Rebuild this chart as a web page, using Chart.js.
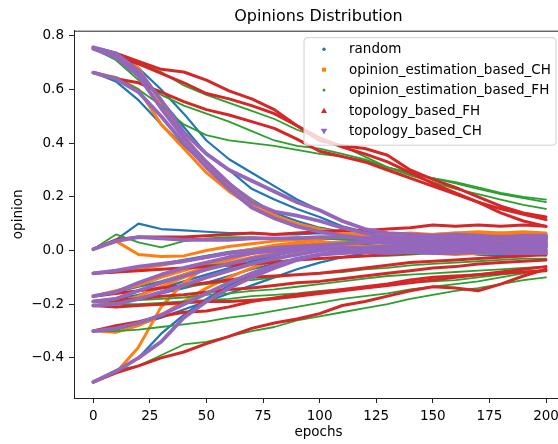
<!DOCTYPE html>
<html>
<head>
<meta charset="utf-8">
<script src="https://cdn.jsdelivr.net/npm/chart.js@4.4.1/dist/chart.umd.min.js"></script>
<style>
html, body { margin: 0; padding: 0; overflow: hidden; background: #fff; }
#wrap { width: 558px; height: 444px; overflow: hidden; }
</style>
</head>
<body>
<div id="wrap"><canvas id="myChart" width="580" height="444"></canvas></div>
<script>
// epochs sampled every 10 steps
const epochs = [0, 10, 20, 30, 40, 50, 60, 70, 80, 90, 100, 110, 120, 130, 140, 150, 160, 170, 180, 190, 200];
const xTicks = [0, 25, 50, 75, 100, 125, 150, 175, 200];
const yTicks = [-0.4, -0.2, 0.0, 0.2, 0.4, 0.6, 0.8];
const seriesNames = ['random', 'opinion_estimation_based_CH', 'opinion_estimation_based_FH', 'topology_based_FH', 'topology_based_CH'];

// one row per agent, values at the epochs above
const randomRuns = [
    [0.757, 0.73, 0.68, 0.60, 0.51, 0.41, 0.34, 0.29, 0.24, 0.19, 0.15, 0.11, 0.08, 0.065, 0.06, 0.05, 0.045, 0.05, 0.04, 0.045, 0.04],
    [0.752, 0.72, 0.66, 0.56, 0.46, 0.36, 0.30, 0.23, 0.19, 0.155, 0.125, 0.09, 0.07, 0.06, 0.055, 0.05, 0.055, 0.05, 0.045, 0.05, 0.05],
    [0.663, 0.63, 0.56, 0.47, 0.39, 0.32, 0.25, 0.19, 0.14, 0.11, 0.085, 0.07, 0.055, 0.045, 0.04, 0.035, 0.03, 0.035, 0.03, 0.025, 0.03],
    [0.005, 0.04, 0.10, 0.08, 0.075, 0.07, 0.065, 0.065, 0.06, 0.06, 0.065, 0.06, 0.06, 0.055, 0.06, 0.055, 0.06, 0.05, 0.055, 0.05, 0.055],
    [-0.085, -0.075, -0.065, -0.05, -0.035, -0.02, -0.005, 0.005, 0.015, 0.02, 0.025, 0.03, 0.025, 0.03, 0.025, 0.02, 0.025, 0.02, 0.015, 0.02, 0.02],
    [-0.17, -0.155, -0.135, -0.115, -0.09, -0.07, -0.05, -0.03, -0.015, 0.0, 0.01, 0.015, 0.02, 0.015, 0.01, 0.005, 0.0, -0.01, -0.015, -0.01, -0.005],
    [-0.19, -0.18, -0.165, -0.14, -0.115, -0.09, -0.065, -0.04, -0.02, 0.0, 0.015, 0.03, 0.04, 0.045, 0.05, 0.055, 0.06, 0.055, 0.06, 0.065, 0.06],
    [-0.205, -0.20, -0.18, -0.16, -0.14, -0.12, -0.095, -0.07, -0.05, -0.03, -0.015, 0.0, 0.01, 0.015, 0.02, 0.015, 0.01, 0.015, 0.01, 0.01, 0.01],
    [-0.30, -0.295, -0.275, -0.25, -0.22, -0.19, -0.16, -0.13, -0.10, -0.07, -0.045, -0.025, -0.01, 0.0, 0.01, 0.02, 0.025, 0.03, 0.035, 0.03, 0.035],
    [-0.49, -0.455, -0.40, -0.31, -0.24, -0.18, -0.13, -0.09, -0.06, -0.035, -0.015, 0.0, 0.005, 0.0, -0.005, -0.01, -0.005, -0.015, -0.02, -0.015, -0.015]
];

const estimationCH = [
    [0.757, 0.73, 0.68, 0.55, 0.42, 0.33, 0.24, 0.17, 0.12, 0.09, 0.075, 0.065, 0.06, 0.06, 0.055, 0.06, 0.065, 0.06, 0.065, 0.06, 0.06],
    [0.752, 0.72, 0.65, 0.53, 0.43, 0.32, 0.25, 0.185, 0.13, 0.10, 0.08, 0.065, 0.055, 0.05, 0.05, 0.045, 0.05, 0.045, 0.045, 0.05, 0.045],
    [0.663, 0.645, 0.60, 0.47, 0.38, 0.29, 0.22, 0.165, 0.12, 0.09, 0.07, 0.055, 0.045, 0.04, 0.035, 0.03, 0.03, 0.025, 0.03, 0.025, 0.025],
    [0.005, 0.035, -0.015, -0.022, -0.02, 0.0, 0.015, 0.025, 0.035, 0.04, 0.045, 0.05, 0.045, 0.05, 0.055, 0.05, 0.045, 0.05, 0.055, 0.05, 0.05],
    [-0.085, -0.08, -0.07, -0.055, -0.04, -0.025, -0.01, 0.005, 0.02, 0.03, 0.04, 0.05, 0.055, 0.06, 0.065, 0.06, 0.065, 0.07, 0.065, 0.07, 0.065],
    [-0.17, -0.15, -0.13, -0.10, -0.075, -0.05, -0.03, -0.01, 0.005, 0.015, 0.02, 0.02, 0.015, 0.01, 0.005, 0.0, 0.005, 0.0, -0.005, 0.0, 0.0],
    [-0.19, -0.18, -0.15, -0.12, -0.09, -0.06, -0.035, -0.01, 0.01, 0.02, 0.03, 0.03, 0.035, 0.035, 0.04, 0.035, 0.035, 0.03, 0.035, 0.035, 0.035],
    [-0.205, -0.195, -0.17, -0.135, -0.10, -0.07, -0.045, -0.025, -0.01, 0.0, 0.005, 0.0, -0.005, -0.01, -0.005, -0.01, -0.015, -0.01, -0.01, -0.015, -0.01],
    [-0.30, -0.305, -0.28, -0.24, -0.19, -0.14, -0.10, -0.065, -0.035, -0.01, 0.005, 0.01, 0.015, 0.02, 0.015, 0.02, 0.015, 0.01, 0.015, 0.02, 0.015],
    [-0.49, -0.455, -0.36, -0.21, -0.12, -0.06, -0.025, -0.005, 0.01, 0.02, 0.025, 0.03, 0.035, 0.04, 0.035, 0.04, 0.045, 0.04, 0.04, 0.045, 0.04]
];

const estimationFH = [
    [0.757, 0.735, 0.70, 0.665, 0.615, 0.58, 0.55, 0.52, 0.49, 0.45, 0.42, 0.39, 0.35, 0.31, 0.285, 0.27, 0.255, 0.235, 0.215, 0.20, 0.19],
    [0.752, 0.71, 0.635, 0.58, 0.54, 0.51, 0.48, 0.445, 0.41, 0.39, 0.38, 0.36, 0.34, 0.31, 0.28, 0.255, 0.23, 0.21, 0.19, 0.17, 0.155],
    [0.663, 0.645, 0.60, 0.54, 0.47, 0.43, 0.41, 0.40, 0.39, 0.375, 0.36, 0.35, 0.335, 0.31, 0.29, 0.27, 0.25, 0.23, 0.21, 0.195, 0.18],
    [0.005, 0.06, 0.03, 0.012, 0.035, 0.045, 0.05, 0.05, 0.045, 0.05, 0.045, 0.04, 0.04, 0.035, 0.035, 0.03, 0.03, 0.025, 0.025, 0.02, 0.02],
    [-0.085, -0.08, -0.075, -0.07, -0.065, -0.055, -0.05, -0.045, -0.04, -0.035, -0.03, -0.025, -0.02, -0.02, -0.015, -0.01, -0.01, -0.005, -0.01, -0.015, -0.02],
    [-0.17, -0.16, -0.15, -0.14, -0.135, -0.125, -0.115, -0.11, -0.10, -0.09, -0.085, -0.08, -0.07, -0.065, -0.055, -0.05, -0.045, -0.04, -0.035, -0.03, -0.03],
    [-0.19, -0.19, -0.185, -0.18, -0.175, -0.165, -0.16, -0.15, -0.145, -0.135, -0.125, -0.115, -0.105, -0.095, -0.09, -0.085, -0.08, -0.075, -0.07, -0.065, -0.06],
    [-0.205, -0.20, -0.20, -0.195, -0.19, -0.185, -0.18, -0.17, -0.165, -0.16, -0.15, -0.145, -0.14, -0.13, -0.12, -0.115, -0.11, -0.10, -0.09, -0.08, -0.075],
    [-0.30, -0.30, -0.295, -0.285, -0.275, -0.265, -0.25, -0.24, -0.225, -0.21, -0.195, -0.18, -0.17, -0.16, -0.145, -0.135, -0.125, -0.115, -0.10, -0.085, -0.07],
    [-0.49, -0.445, -0.43, -0.39, -0.35, -0.34, -0.32, -0.30, -0.285, -0.26, -0.245, -0.23, -0.215, -0.20, -0.18, -0.165, -0.15, -0.14, -0.125, -0.11, -0.10]
];

const topologyFH = [
    [0.757, 0.735, 0.705, 0.675, 0.665, 0.635, 0.595, 0.565, 0.525, 0.465, 0.41, 0.39, 0.38, 0.355, 0.30, 0.265, 0.235, 0.20, 0.165, 0.14, 0.125],
    [0.752, 0.725, 0.695, 0.66, 0.625, 0.585, 0.565, 0.54, 0.51, 0.465, 0.42, 0.385, 0.36, 0.33, 0.29, 0.25, 0.215, 0.18, 0.14, 0.11, 0.09],
    [0.663, 0.64, 0.625, 0.59, 0.555, 0.525, 0.505, 0.48, 0.455, 0.415, 0.37, 0.35, 0.33, 0.30, 0.27, 0.24, 0.21, 0.18, 0.155, 0.135, 0.115],
    [0.005, 0.04, 0.05, 0.05, 0.05, 0.055, 0.06, 0.065, 0.06, 0.065, 0.07, 0.075, 0.075, 0.08, 0.085, 0.095, 0.09, 0.095, 0.09, 0.095, 0.09],
    [-0.085, -0.08, -0.075, -0.07, -0.065, -0.06, -0.055, -0.05, -0.045, -0.035, -0.03, -0.025, -0.02, -0.015, -0.01, -0.005, 0.0, 0.005, 0.01, 0.01, 0.015],
    [-0.17, -0.16, -0.15, -0.14, -0.13, -0.12, -0.11, -0.10, -0.095, -0.09, -0.085, -0.075, -0.065, -0.055, -0.045, -0.04, -0.035, -0.03, -0.025, -0.02, -0.015],
    [-0.19, -0.185, -0.18, -0.17, -0.165, -0.155, -0.145, -0.14, -0.13, -0.12, -0.115, -0.105, -0.095, -0.085, -0.075, -0.065, -0.06, -0.05, -0.045, -0.04, -0.035],
    [-0.205, -0.21, -0.205, -0.20, -0.195, -0.19, -0.19, -0.185, -0.18, -0.17, -0.16, -0.15, -0.14, -0.13, -0.12, -0.11, -0.10, -0.09, -0.08, -0.07, -0.06],
    [-0.30, -0.28, -0.265, -0.245, -0.23, -0.225, -0.21, -0.19, -0.177, -0.165, -0.155, -0.145, -0.135, -0.125, -0.11, -0.10, -0.095, -0.09, -0.085, -0.08, -0.075],
    [-0.49, -0.456, -0.43, -0.40, -0.378, -0.347, -0.32, -0.29, -0.27, -0.255, -0.235, -0.205, -0.19, -0.17, -0.15, -0.135, -0.14, -0.15, -0.125, -0.095, -0.07]
];

const topologyCH = [
    [0.757, 0.735, 0.67, 0.56, 0.44, 0.36, 0.30, 0.26, 0.22, 0.18, 0.15, 0.11, 0.08, 0.065, 0.06, 0.055, 0.06, 0.055, 0.05, 0.055, 0.055],
    [0.752, 0.72, 0.65, 0.53, 0.42, 0.33, 0.25, 0.18, 0.145, 0.13, 0.11, 0.085, 0.065, 0.05, 0.045, 0.04, 0.045, 0.04, 0.045, 0.04, 0.04],
    [0.663, 0.64, 0.59, 0.50, 0.40, 0.31, 0.23, 0.16, 0.12, 0.09, 0.07, 0.055, 0.045, 0.035, 0.03, 0.025, 0.02, 0.025, 0.02, 0.02, 0.02],
    [0.005, 0.035, 0.05, 0.045, 0.04, 0.04, 0.04, 0.045, 0.045, 0.045, 0.05, 0.05, 0.045, 0.05, 0.045, 0.045, 0.05, 0.045, 0.045, 0.05, 0.045],
    [-0.085, -0.075, -0.06, -0.05, -0.04, -0.025, -0.01, 0.0, 0.01, 0.015, 0.02, 0.025, 0.03, 0.03, 0.03, 0.03, 0.035, 0.03, 0.03, 0.035, 0.03],
    [-0.17, -0.155, -0.12, -0.09, -0.065, -0.045, -0.025, -0.01, 0.0, 0.005, 0.005, 0.005, 0.0, 0.0, 0.005, 0.0, 0.0, 0.005, 0.0, 0.0, 0.0],
    [-0.19, -0.18, -0.15, -0.12, -0.095, -0.07, -0.05, -0.03, -0.015, 0.0, 0.015, 0.025, 0.035, 0.04, 0.045, 0.05, 0.05, 0.045, 0.05, 0.05, 0.05],
    [-0.205, -0.20, -0.18, -0.155, -0.13, -0.10, -0.075, -0.05, -0.03, -0.015, 0.0, 0.01, 0.01, 0.015, 0.01, 0.01, 0.015, 0.01, 0.01, 0.01, 0.01],
    [-0.30, -0.29, -0.27, -0.24, -0.20, -0.16, -0.12, -0.085, -0.055, -0.03, -0.015, -0.01, -0.005, -0.01, -0.005, -0.01, -0.01, -0.005, -0.01, -0.01, -0.01],
    [-0.49, -0.45, -0.40, -0.34, -0.25, -0.19, -0.14, -0.10, -0.065, -0.035, -0.015, 0.0, 0.01, 0.015, 0.02, 0.025, 0.02, 0.025, 0.025, 0.02, 0.025]
];

const runs = [randomRuns, estimationCH, estimationFH, topologyFH, topologyCH];

const styles = [
    { color: '#1f77b4', width: 2.2, marker: 'dot' },
    { color: '#ff7f0e', width: 3, marker: 'square' },
    { color: '#2ca02c', width: 1.8, marker: 'smalldot' },
    { color: '#d62728', width: 3, marker: 'triangle' },
    { color: '#9467bd', width: 3.8, marker: 'triangleDown' }
];

Chart.defaults.font.family = '"DejaVu Sans", sans-serif';
Chart.defaults.color = '#000';

let datasets = [];
for (let s = 0; s < runs.length; s++) {
    for (let i = 0; i < runs[s].length; i++) {
        datasets.push({
            label: seriesNames[s],
            data: epochs.map((e, k) => ({ x: e, y: runs[s][i][k] })),
            borderColor: styles[s].color,
            backgroundColor: styles[s].color,
            borderWidth: styles[s].width,
            borderJoinStyle: 'round',
            borderCapStyle: 'round',
            pointRadius: 0,
            showLine: true,
            tension: 0,
            order: runs.length - s
        });
    }
}

function drawMarker(ctx, type, cx, cy, color) {
    ctx.fillStyle = color;
    ctx.beginPath();
    if (type == 'dot') {
        ctx.arc(cx, cy, 1.7, 0, Math.PI * 2);
    } else if (type == 'smalldot') {
        ctx.arc(cx, cy, 1.4, 0, Math.PI * 2);
    } else if (type == 'square') {
        ctx.rect(cx - 2, cy - 2, 4, 4);
    } else if (type == 'triangle') {
        ctx.moveTo(cx, cy - 3);
        ctx.lineTo(cx - 3, cy + 2.2);
        ctx.lineTo(cx + 3, cy + 2.2);
    } else {
        ctx.moveTo(cx, cy + 3.3);
        ctx.lineTo(cx - 3.3, cy - 2.4);
        ctx.lineTo(cx + 3.3, cy - 2.4);
    }
    ctx.closePath();
    ctx.fill();
}

// top spine + matplotlib style legend box
const framePlugin = {
    id: 'framePlugin',
    afterDraw(chart) {
        const ctx = chart.ctx;
        const area = chart.chartArea;
        ctx.save();
        ctx.strokeStyle = '#222';
        ctx.lineWidth = 1;
        ctx.beginPath();
        ctx.moveTo(area.left, area.top + 0.5);
        ctx.lineTo(area.right, area.top + 0.5);
        ctx.moveTo(area.right - 0.5, area.top);
        ctx.lineTo(area.right - 0.5, area.bottom);
        ctx.stroke();

        const w = 252, h = 107.5;
        const left = area.right - 7 - w;
        const top = area.top + 7;
        ctx.beginPath();
        ctx.roundRect(left, top, w, h, 3);
        ctx.fillStyle = 'rgba(255,255,255,0.8)';
        ctx.fill();
        ctx.strokeStyle = '#d0d0d0';
        ctx.stroke();

        ctx.font = '13.5px "DejaVu Sans"';
        ctx.textBaseline = 'middle';
        ctx.textAlign = 'left';
        for (let s = 0; s < seriesNames.length; s++) {
            const cy = top + 11.5 + s * 20.5;
            drawMarker(ctx, styles[s].marker, left + 20, cy, styles[s].color);
            ctx.fillStyle = '#000';
            ctx.fillText(seriesNames[s], left + 45, cy + 0.5);
        }
        ctx.restore();
    }
};

new Chart(document.getElementById('myChart'), {
    type: 'scatter',
    data: { datasets: datasets },
    options: {
        responsive: false,
        animation: false,
        events: [],
        layout: { padding: { left: 0, right: 17, top: 0, bottom: 0 } },
        plugins: {
            legend: { display: false },
            tooltip: { enabled: false },
            title: {
                display: true,
                text: 'Opinions Distribution',
                fullSize: false,
                font: { size: 16, weight: 'normal' },
                color: '#000',
                padding: { top: 7, bottom: 4.5 }
            }
        },
        scales: {
            x: {
                type: 'linear',
                min: -8.5,
                max: 207.5,
                afterBuildTicks: (scale) => { scale.ticks = xTicks.map(v => ({ value: v })); },
                afterFit: (scale) => { scale.height = 46; },
                grid: { display: true, drawOnChartArea: false, drawTicks: true, tickLength: 5, color: '#222' },
                border: { display: true, color: '#222', width: 1 },
                ticks: { font: { size: 13.5 }, color: '#000', padding: 5, maxRotation: 0 },
                title: { display: true, text: 'epochs', font: { size: 13.5 }, color: '#000', padding: { top: 0, bottom: 3 } }
            },
            y: {
                type: 'linear',
                min: -0.5495,
                max: 0.819,
                afterBuildTicks: (scale) => { scale.ticks = yTicks.map(v => ({ value: v })); },
                afterFit: (scale) => { scale.width = 74; },
                grid: { display: true, drawOnChartArea: false, drawTicks: true, tickLength: 5, color: '#222' },
                border: { display: true, color: '#222', width: 1 },
                ticks: {
                    font: { size: 13.5 },
                    color: '#000',
                    padding: 5,
                    callback: (v) => v.toFixed(1).replace('-', '\u2212')
                },
                title: { display: true, text: 'opinion', font: { size: 13.5 }, color: '#000', padding: { top: 10, bottom: 0 } }
            }
        }
    },
    plugins: [framePlugin]
});
</script>
</body>
</html>
